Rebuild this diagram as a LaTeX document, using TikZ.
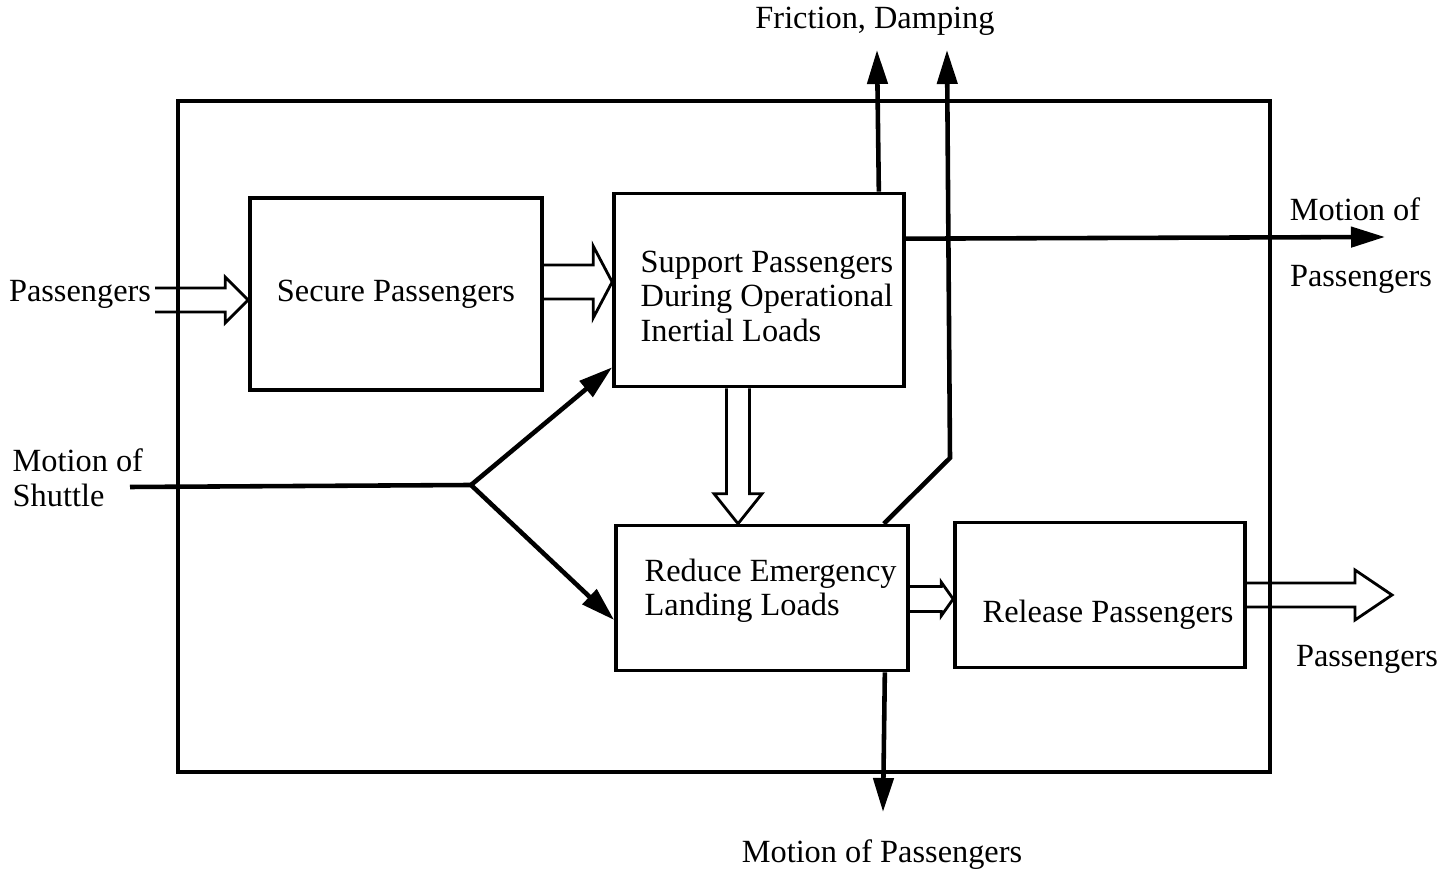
\documentclass[tikz,border=0pt]{standalone}
\usepackage{fontspec}
\setmainfont{Liberation Serif}
\usepackage{tikz}
\usetikzlibrary{positioning,calc,arrows.meta}

% hollow block arrows, start -> tip, shaft half width, head half width, head length
\newcommand{\hollowright}[5]{%
  \draw[hollow] ($(#1 |- #2)+(0,-#3)$) -- ($(#2)+(-#5,-#3)$) -- ($(#2)+(-#5,-#4)$)
    -- (#2) -- ($(#2)+(-#5,#4)$) -- ($(#2)+(-#5,#3)$) -- ($(#1 |- #2)+(0,#3)$);}
\newcommand{\hollowdown}[5]{%
  \draw[hollow] ($(#1 -| #2)+(-#3,0)$) -- ($(#2)+(-#3,-#5)$) -- ($(#2)+(-#4,-#5)$)
    -- (#2) -- ($(#2)+(#4,-#5)$) -- ($(#2)+(#3,-#5)$) -- ($(#1 -| #2)+(#3,0)$);}

\begin{document}
\begin{tikzpicture}[x=0.01cm, y=-0.01cm,
    font=\fontsize{9.2}{9.8}\selectfont,
    func/.style={draw, line width=1pt, inner sep=0pt},
    ftext/.style={inner sep=0pt, align=left, anchor=west},
    flow/.style={line width=1.3pt, -{Triangle[length=0.34cm, width=0.2cm]}},
    hollow/.style={line width=0.8pt, line join=miter}]
    \useasboundingbox (0,0) rectangle (1448,877);

    % Boundary
    \draw[line width=1.1pt] (178,101) rectangle (1270,772);

    % Functions
    \node[func, minimum width=2.92cm, minimum height=1.92cm] (secure) at (396,294) {Secure Passengers};
    \node[func, minimum width=2.90cm, minimum height=1.93cm] (support) at (759,290) {};
    \node[ftext] (support text) at (640,296) {Support Passengers\\During Operational\\Inertial Loads};
    \node[func, minimum width=2.92cm, minimum height=1.45cm] (reduce) at (762,598) {};
    \node[ftext] (reduce text) at (644,591) {Reduce Emergency\\Landing Loads};
    \node[func, minimum width=2.90cm, minimum height=1.45cm] (release) at (1100,595) {};
    \node[ftext] (release text) at (982,615) {Release Passengers};

    % External labels
    \node (inpass) at (80,294) {Passengers};
    \node[ftext] (shuttle) at (12,478) {Motion of\\Shuttle};
    \node (friction) at (875,21) {Friction, Damping};
    \node (motof) at (1355,209) {Motion of};
    \node (motpass) at (1361,279) {Passengers};
    \node (outpass) at (1367,659) {Passengers};
    \node (botmot) at (882,855) {Motion of Passengers};

    % Connector ends
    \coordinate (pin) at (155,300);
    \coordinate (shin) at (130,487);
    \coordinate (fork) at (471,485);
    \coordinate (fric1) at (877,50);
    \coordinate (bend) at (950,458);
    \coordinate (fric2) at (947,50);
    \coordinate (motend) at (1385,237);
    \coordinate (botend) at (883,812);
    \coordinate (outend) at (1392,595);
    \coordinate (s1tip) at ($(secure.west)+(0,6)$);
    \coordinate (s2tip) at ($(support.west)+(0,-8)$);
    \coordinate (s3tip) at ($(reduce.north)+(-24,0)$);
    \coordinate (r2tip) at ($(release.west)+(0,4)$);

    % Material flows
    \hollowright{pin}{s1tip}{12}{23}{23}
    \hollowright{secure.east}{s2tip}{17}{36}{19}
    \hollowdown{support.south}{s3tip}{11.5}{24}{30}
    \hollowright{reduce.east}{r2tip}{12.5}{17}{12}
    \hollowright{release.east}{outend}{12}{25}{37}

    % Energy flows
    \draw[line width=1.3pt] (shin) -- (fork);
    \draw[flow] (fork) -- ($(support.south west)+(0,-21)$);
    \draw[flow] (fork) -- ($(reduce.west)+(0,22)$);
    \draw[flow] ($(support.north east)+(-27,0)$) -- (fric1);
    \draw[flow] ($(reduce.north east)+(-26,0)$) -- (bend) -- (fric2);
    \draw[flow] ($(support.north east)+(0,47)$) -- (motend);
    \draw[flow] ($(reduce.south east)+(-25,0)$) -- (botend);
\end{tikzpicture}
\end{document}
